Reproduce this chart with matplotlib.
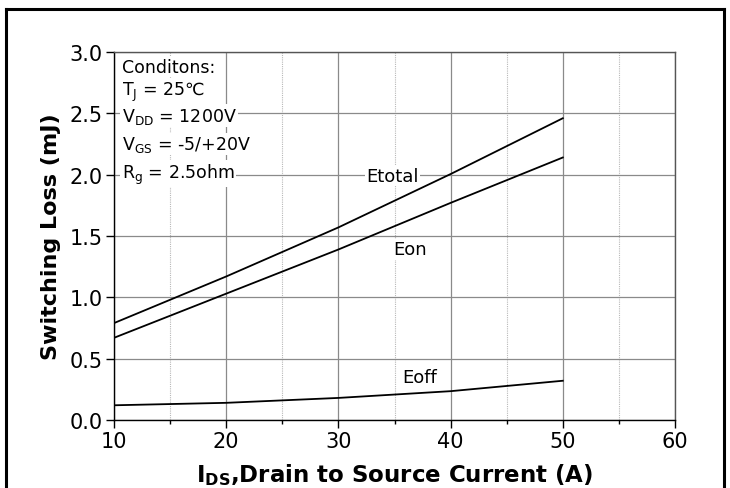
import numpy as np
import matplotlib.pyplot as plt
from matplotlib.ticker import MultipleLocator

plt.rcParams['font.family'] = ['DejaVu Sans']

current = [10, 20, 30, 40, 50]
e_on = [0.67, 1.03, 1.39, 1.77, 2.14]
e_off = [0.12, 0.14, 0.18, 0.235, 0.32]
e_total = [0.79, 1.17, 1.57, 2.005, 2.46]

fig = plt.figure(figsize=(7.3, 4.89), dpi=100)
ax = fig.add_axes([114 / 730, 1 - 421 / 489, (675 - 114) / 730, (421 - 53) / 489])

# outer frame of the datasheet box
fig.add_artist(plt.Line2D([6 / 730, 6 / 730], [0, 1 - 10 / 489], color='black', lw=2.2))
fig.add_artist(plt.Line2D([6 / 730, 723.5 / 730], [1 - 10 / 489, 1 - 10 / 489], color='black', lw=2.2))
fig.add_artist(plt.Line2D([723.5 / 730, 723.5 / 730], [0, 1 - 10 / 489], color='black', lw=2.2))

for y in [e_total, e_on, e_off]:
    ax.plot(current, y, color='black', lw=1.3, zorder=3)

ax.set_xlim(10, 60)
ax.set_ylim(0, 3.0)
ax.xaxis.set_major_locator(MultipleLocator(10))
ax.xaxis.set_minor_locator(MultipleLocator(5))
ax.yaxis.set_major_locator(MultipleLocator(0.5))
ax.yaxis.set_major_formatter(plt.FormatStrFormatter('%.1f'))

ax.grid(True, which='major', color='#8a8a8a', lw=0.9)
ax.grid(True, which='minor', axis='x', color='#b8b8b8', lw=0.8, ls=(0, (1, 1)))
ax.set_axisbelow(True)

for s in ax.spines.values():
    s.set_color('#555555')
    s.set_linewidth(1.0)
ax.spines['bottom'].set_color('black')
ax.spines['left'].set_color('black')

ax.tick_params(axis='both', which='major', labelsize=15, direction='out', length=6, width=1, pad=2)
ax.tick_params(axis='x', which='minor', direction='out', length=3, width=1)
ax.tick_params(axis='y', which='minor', left=False)

ax.set_ylabel('Switching Loss (mJ)', fontsize=16, fontweight='bold', labelpad=6)
ax.set_xlabel(r'I$_\mathbf{DS}$,Drain to Source Current (A)', fontsize=16.5, fontweight='bold', labelpad=7)

box = dict(facecolor='white', edgecolor='none', pad=1)
ax.text(34.8, 1.99, 'Etotal', fontsize=13, ha='center', va='center', bbox=box, zorder=4)
ax.text(36.4, 1.39, 'Eon', fontsize=13, ha='center', va='center', bbox=box, zorder=4)
ax.text(37.2, 0.35, 'Eoff', fontsize=13, ha='center', va='center', bbox=box, zorder=4)

cond = ['Conditons:', r'T$_\mathregular{J}$ = 25℃', r'V$_\mathregular{DD}$ = 1200V',
        r'V$_\mathregular{GS}$ = -5/+20V', r'R$_\mathregular{g}$ = 2.5ohm']
ys = [2.88, 2.68, 2.48, 2.25, 2.01]
for t, yy in zip(cond, ys):
    ax.text(10.7, yy, t, fontsize=12.5, ha='left', va='center', bbox=box, zorder=4)

fig.savefig('out.png', dpi=100)
